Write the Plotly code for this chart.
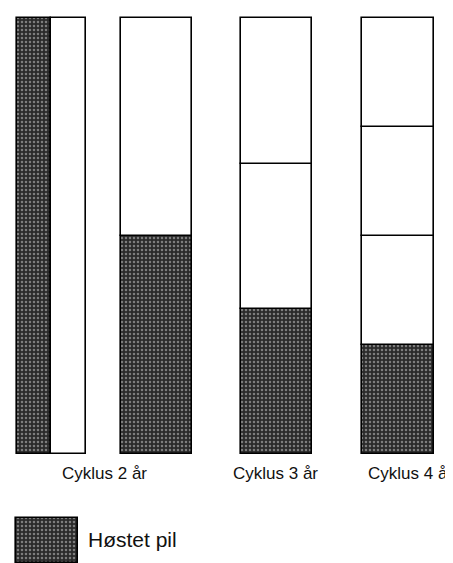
import plotly.graph_objects as go

# ---- data ----
col1_strips = [1.0, 1.0]                 # left strip harvested, right strip not harvested (full height)
col2_segments = [0.5, 0.5]               # bottom segment harvested
col3_segments = [0.333, 0.333, 0.334]
col4_segments = [0.25, 0.25, 0.25, 0.25]
cycle_labels = ["Cyklus 2 år", "Cyklus 3 år", "Cyklus 4 år"]
legend_label = "Høstet pil"

# ---- layout helpers (pixel geometry of the drawing) ----
W, H = 453, 563
BOTTOM_PX, TOP_PX = 446, 10
UNIT = BOTTOM_PX - TOP_PX


def py2y(py):
    return (BOTTOM_PX - py) / UNIT


LINE = dict(color="black", width=1.6)
DARK = dict(color="#2a2a2a",
            pattern=dict(shape=".", fgcolor="#cfcfcf", size=4, solidity=0.32),
            line=LINE)
LIGHT = dict(color="white", line=LINE)

fig = go.Figure()

# column 1: two side-by-side strips
strip_geo = [(26, 34), (60.5, 35)]
for i, (h, (cx, w)) in enumerate(zip(col1_strips, strip_geo)):
    fig.add_bar(x=[cx], y=[h], base=[0], width=[w],
                marker=DARK if i == 0 else LIGHT, showlegend=False, hoverinfo="skip")

# stacked columns
col_geo = [(148.5, 71), (268.5, 71), (390, 72)]
for segs, (cx, w) in zip([col2_segments, col3_segments, col4_segments], col_geo):
    base = 0.0
    for i, s in enumerate(segs):
        fig.add_bar(x=[cx], y=[s], base=[base], width=[w],
                    marker=DARK if i == 0 else LIGHT, showlegend=False, hoverinfo="skip")
        base += s

# legend swatch
fig.add_bar(x=[39], y=[py2y(510) - py2y(555)], base=[py2y(555)], width=[62],
            marker=DARK, showlegend=False, hoverinfo="skip")

label_x = [96, 267, 402]
for lx, txt in zip(label_x, cycle_labels):
    fig.add_annotation(x=lx, y=py2y(465), text=txt, showarrow=False,
                       xanchor="center", yanchor="middle",
                       font=dict(family="Liberation Sans, Arial, sans-serif", size=17, color="#111"))

fig.add_annotation(x=78, y=py2y(531), text=legend_label, showarrow=False,
                   xanchor="left", yanchor="middle",
                   font=dict(family="Liberation Sans, Arial, sans-serif", size=21, color="#111"))

fig.update_layout(
    width=W, height=H,
    margin=dict(l=0, r=0, t=0, b=0),
    barmode="overlay",
    paper_bgcolor="white", plot_bgcolor="white",
    xaxis=dict(range=[0, W], visible=False, fixedrange=True),
    yaxis=dict(range=[py2y(H), py2y(0)], visible=False, fixedrange=True),
    bargap=0,
)

fig.write_html("out.html")
